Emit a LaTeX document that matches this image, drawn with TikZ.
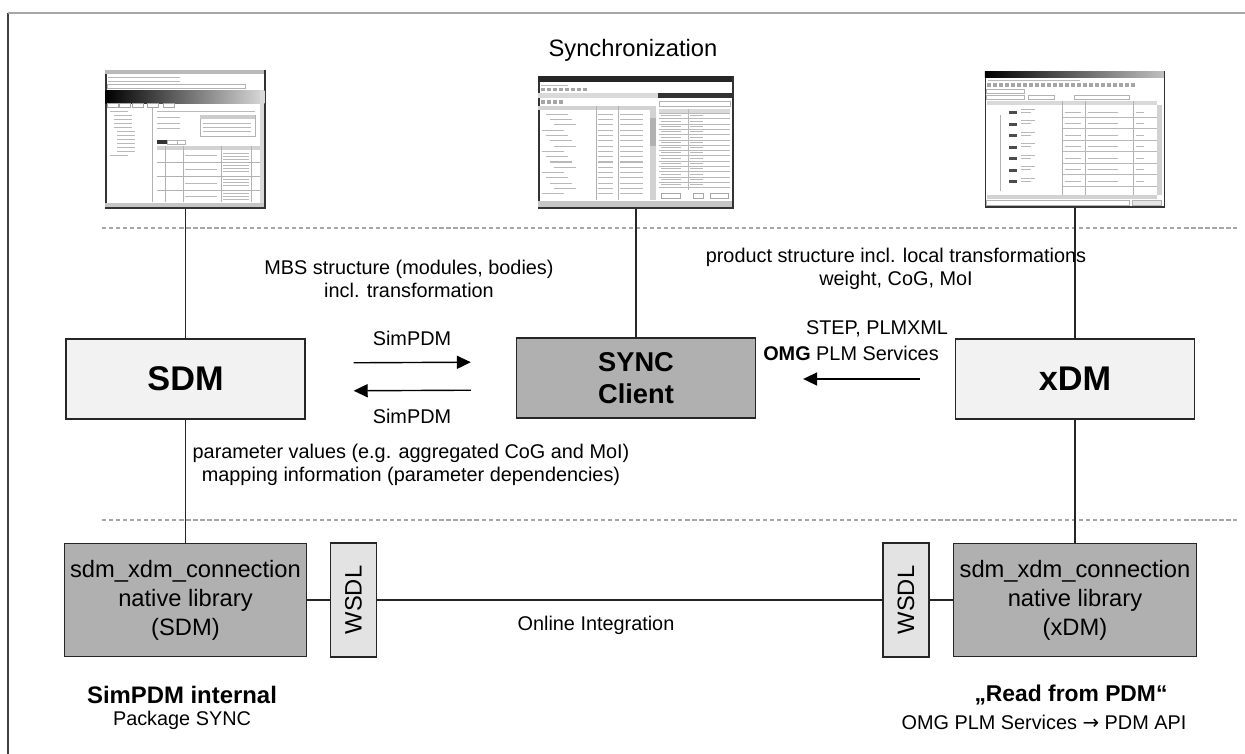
\documentclass[tikz,border=0pt]{standalone}
\usepackage{fontspec}
\setmainfont{Liberation Sans}
\newfontfamily\arrowfont{DejaVu Sans}
\usetikzlibrary{positioning,arrows.meta,calc}

\begin{document}
\begin{tikzpicture}[
    x=0.02cm, y=-0.02cm,
    sysbox/.style={draw=black!85, line width=0.8pt, fill=gray!10, minimum width=4.78cm, minimum height=1.6cm, font=\fontsize{19.5}{22}\selectfont\bfseries},
    syncbox/.style={sysbox, fill=gray!62, align=center, font=\fontsize{15.5}{18}\selectfont\bfseries},
    libbox/.style={draw=black!85, line width=0.8pt, fill=gray!62, minimum width=4.78cm, minimum height=2.26cm, align=center, font=\fontsize{13.5}{16.5}\selectfont},
    wsdl/.style={draw=black!85, line width=0.8pt, fill=gray!22, minimum width=2.28cm, minimum height=0.92cm, rotate=90, font=\fontsize{13.5}{16}\selectfont},
    shot/.style={draw=black!80, line width=0.8pt, fill=white, inner sep=0pt},
    lbl/.style={align=center, inner sep=0pt, font=\fontsize{11.3}{13}\selectfont},
    link/.style={line width=0.7pt, black!85},
    flow/.style={line width=0.8pt, -{Triangle[length=8pt, width=7.5pt]}},
    sep/.style={gray!70, line width=0.6pt, dash pattern=on 2.4pt off 1.6pt},
    txt/.style={gray!55, line width=0.7pt},
]
\useasboundingbox (0,0) rectangle (1245,754);

% Frame
\draw[black!75, line width=0.6pt] (8,754) -- (8,13);
\draw[gray!70, line width=1.2pt] (8,13) -- (1245,13);

% Separators
\draw[sep] (102,228) -- (1237,228);
\draw[sep] (102,520) -- (1237,520);

% Screenshots
\node[shot, minimum width=3.18cm, minimum height=2.74cm] (pdmweb) at (185.5,139.5) {};
\node[shot, minimum width=3.88cm, minimum height=2.62cm] (smartclient) at (636,142.5) {};
\node[shot, minimum width=3.58cm, minimum height=2.7cm] (explorer) at (1075,139.5) {};

% PDM web client
\begin{scope}[shift={(pdmweb.north west)}]
\fill[gray!55] (0,0) rectangle (159,4);
\foreach \yy in {7,11} \draw[txt] (3,\yy) -- (75,\yy);
\draw[gray!60, line width=0.4pt] (2,14) rectangle (140,18);
\shade[left color=black, right color=gray!30] (0,20) rectangle (159,33);
\foreach \xx in {2,14,27,42,58} \draw[gray!70, fill=white, line width=0.3pt] (\xx,33) rectangle ++(11,4);
\draw[gray!60, line width=0.4pt] (47,38) -- (47,132);
\foreach \yy/\xx in {41/5,45/9,49/9,53/9,57/9,61/12,65/12,69/12,73/12,77/12,81/12,85/5} \draw[txt] (\xx,\yy) -- ++(18,0);
\draw[txt] (52,41) -- (150,41) (52,47) -- (75,47) (52,53) -- (75,53) (52,58) -- (75,58);
\draw[gray!60, line width=0.4pt] (95,45) rectangle (150,66);
\fill[gray!40] (95,45) rectangle (150,49);
\foreach \yy in {53,57,61} \draw[txt, line width=0.5pt] (98,\yy) -- (146,\yy);
\fill[black!80] (52,70) rectangle (62,74);
\draw[gray!60, line width=0.3pt] (62,70) rectangle (72,74) (72,70) rectangle (80,74);
\fill[gray!35] (52,76) rectangle (155,80);
\foreach \yy in {92,106,120} \draw[gray!60, line width=0.4pt] (52,\yy) -- (155,\yy);
\foreach \xx in {60,78,116,146} \draw[gray!60, line width=0.4pt] (\xx,76) -- (\xx,132);
\foreach \yy in {83,86,89,95,98,101,109,112,115,123,126,129} \draw[txt, line width=0.5pt] (118,\yy) -- (144,\yy);
\foreach \yy in {85,99,113,126} \draw[txt, line width=0.5pt] (80,\yy) -- (112,\yy);
\fill[gray!30] (155,20) rectangle (159,133);
\fill[gray!45] (0,133) rectangle (159,137);
\end{scope}

% Smart client
\begin{scope}[shift={(smartclient.north west)}]
\fill[black!85] (0,0) rectangle (194,6);
\draw[txt] (3,9) -- (30,9);
\foreach \xx in {3,9,...,45} \fill[gray!70] (\xx,12) rectangle ++(4,3);
\fill[gray!30] (0,17) rectangle (120,22);
\fill[black!80] (120,17) rectangle (194,22);
\foreach \xx in {3,9,15,21} \fill[gray!70] (\xx,24) rectangle ++(4,4);
\fill[gray!35] (0,30) rectangle (118,34);
\draw[gray!60, line width=0.4pt] (58,30) -- (58,124) (80,30) -- (80,124);
\foreach \yy [count=\i] in {38,43.3,...,122} \draw[txt, line width=0.6pt] ({4+mod(\i,4)*4},\yy) -- ++(22,0) (60,\yy) -- (75,\yy) (82,\yy) -- (105,\yy);
\fill[gray!35] (112,34) rectangle (118,124);
\fill[gray!60] (112,42) rectangle (118,70);
\draw[gray!60, line width=0.4pt] (121,25) rectangle (192,30);
\fill[gray!30] (121,33) rectangle (192,37);
\foreach \yy in {37,42.3,...,114} \draw[gray!55, line width=0.3pt] (121,\yy) -- (192,\yy);
\draw[gray!55, line width=0.3pt] (150,33) -- (150,114);
\foreach \yy in {39.5,44.8,...,112} \draw[txt, line width=0.5pt] (123,\yy) -- (143,\yy) (152,\yy) -- (165,\yy);
\draw[gray!70, line width=0.4pt] (123,117) rectangle (142,122) (155,117) rectangle (165,122) (172,117) rectangle (190,122);
\fill[gray!45] (0,125) rectangle (194,131);
\end{scope}

% Structure explorer
\begin{scope}[shift={(explorer.north west)}]
\shade[left color=black, right color=gray!50] (0,0) rectangle (179,6);
\draw[txt] (3,9) -- (95,9);
\foreach \xx in {2,8,...,146} \fill[gray!70] (\xx,12) rectangle ++(4,4);
\draw[gray!60, line width=0.4pt] (2,18) rectangle (40,22) (2,24) rectangle (40,28) (44,24) rectangle (70,28) (90,24) rectangle (145,28);
\fill[gray!30] (2,30) rectangle (172,34);
\foreach \xx in {78,101,149} \draw[gray!60, line width=0.4pt] (\xx,30) -- (\xx,124);
\foreach \yy in {45.5,57,...,124} \draw[gray!55, line width=0.3pt] (78,\yy) -- (172,\yy);
\draw[gray!60, line width=0.4pt] (16,44) -- (16,120);
\foreach \yy in {40,51.5,...,120} {
  \fill[black!70] (24,\yy) rectangle ++(8,3);
  \draw[txt, line width=0.5pt] (36,\yy-2) -- ++(14,0) (36,\yy+1) -- ++(10,0) (80,\yy+1) -- ++(16,0) (103,\yy+1) -- ++(30,0) (151,\yy+1) -- ++(8,0);
}
\fill[gray!35] (172,34) rectangle (177,124);
\fill[gray!35] (2,124) rectangle (172,128);
\draw[gray!60, line width=0.4pt] (2,129) rectangle (145,134);
\draw[gray!60, line width=0.4pt, fill=gray!20] (148,129) rectangle (177,134);
\end{scope}

% Systems
\node[sysbox] (sdm) at (185.5,379) {SDM};
\node[syncbox] (sync) at (636,378) {SYNC\\Client};
\node[sysbox] (xdm) at (1075,379) {xDM};

% Libraries
\node[libbox] (sdmlib) at (185.5,600) {sdm\_xdm\_connection\\native library\\(SDM)};
\node[libbox] (xdmlib) at (1075,600) {sdm\_xdm\_connection\\native library\\(xDM)};
\node[wsdl] (wsdlL) at (353.5,600) {WSDL};
\node[wsdl] (wsdlR) at (906,600) {WSDL};

% Vertical links
\draw[link] (pdmweb) -- (sdm);
\draw[link] (sdm) -- (sdmlib);
\draw[link] (smartclient) -- (sync);
\draw[link] (explorer) -- (xdm);
\draw[link] (xdm) -- (xdmlib);

% Online integration
\draw[link] (sdmlib) -- (wsdlL);
\draw[link] (wsdlL) -- (wsdlR);
\draw[link] (wsdlR) -- (xdmlib);

% Data flow
\draw[flow, shorten <=0.96cm, shorten >=0.9cm] ([yshift=0.32cm]sdm.east) -- ([yshift=0.32cm]sync.west);
\draw[flow, shorten <=0.9cm, shorten >=0.96cm] ([yshift=-0.24cm]sync.west) -- ([yshift=-0.24cm]sdm.east);
\draw[flow, shorten <=0.7cm, shorten >=0.94cm] (xdm.west) -- (xdm.west -| sync.east);

% Labels
\node[lbl, font=\fontsize{13.5}{16}\selectfont] (synctitle) at (633,50) {Synchronization};
\node[lbl] (mbs) at (409,279) {MBS structure (modules, bodies)\\incl. transformation};
\node[lbl] (simup) at (412,338) {SimPDM};
\node[lbl] (simdown) at (412,416) {SimPDM};
\node[lbl] (prod) at (896,269) {product structure incl. local transformations\\weight, CoG, MoI};
\node[lbl] (step) at (877,329) {STEP, PLMXML};
\node[lbl] (omg) at (851,353) {\textbf{OMG} PLM Services};
\node[lbl] (param) at (411,465) {parameter values (e.g. aggregated CoG and MoI)\\mapping information (parameter dependencies)};
\node[lbl] (online) at (596,625) {Online Integration};
\node[lbl, font=\fontsize{13.6}{16}\selectfont\bfseries] (internal) at (182,695) {SimPDM internal};
\node[lbl] (package) at (182,720) {Package SYNC};
\node[lbl, font=\fontsize{13}{16}\selectfont\bfseries] (readpdm) at (1071,695) {„Read from PDM“};
\node[lbl] (omgapi) at (1044,722) {OMG PLM Services {\arrowfont →} PDM API};

\end{tikzpicture}
\end{document}
